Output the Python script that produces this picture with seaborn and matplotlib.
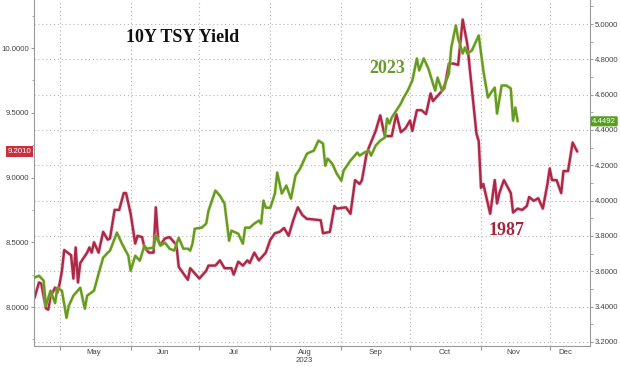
import numpy as np
import pandas as pd
import matplotlib
matplotlib.use("Agg")
import matplotlib.pyplot as plt
import matplotlib.dates as mdates
import matplotlib.patheffects as pe
from matplotlib.ticker import MultipleLocator, FormatStrFormatter, FixedLocator, FixedFormatter, NullFormatter
import seaborn as sns

# 1987 yields (left axis), plotted against the matching 2023 calendar date
dates_1987 = [
    "2023-04-20", "2023-04-22", "2023-04-23", "2023-04-25", "2023-04-26", "2023-04-27", "2023-04-29", "2023-04-30",
    "2023-05-01", "2023-05-02", "2023-05-03", "2023-05-06", "2023-05-07", "2023-05-08", "2023-05-09", "2023-05-10",
    "2023-05-13", "2023-05-14", "2023-05-15", "2023-05-16", "2023-05-18", "2023-05-20", "2023-05-22", "2023-05-23",
    "2023-05-25", "2023-05-27", "2023-05-29", "2023-05-30", "2023-06-01", "2023-06-03", "2023-06-04", "2023-06-06",
    "2023-06-07", "2023-06-09", "2023-06-11", "2023-06-12", "2023-06-13", "2023-06-14", "2023-06-16", "2023-06-18",
    "2023-06-20", "2023-06-21", "2023-06-22", "2023-06-24", "2023-06-26", "2023-06-27", "2023-06-29", "2023-07-01",
    "2023-07-04", "2023-07-05", "2023-07-08", "2023-07-10", "2023-07-12", "2023-07-15", "2023-07-16", "2023-07-18",
    "2023-07-20", "2023-07-22", "2023-07-23", "2023-07-25", "2023-07-27", "2023-07-28", "2023-07-30", "2023-08-01",
    "2023-08-03", "2023-08-05", "2023-08-07", "2023-08-09", "2023-08-11", "2023-08-13", "2023-08-15", "2023-08-17",
    "2023-08-18", "2023-08-23", "2023-08-24", "2023-08-27", "2023-08-29", "2023-08-30", "2023-09-03", "2023-09-05",
    "2023-09-07", "2023-09-09", "2023-09-10", "2023-09-12", "2023-09-13", "2023-09-16", "2023-09-18", "2023-09-20",
    "2023-09-23", "2023-09-25", "2023-09-27", "2023-09-29", "2023-10-01", "2023-10-02", "2023-10-04", "2023-10-06",
    "2023-10-08", "2023-10-10", "2023-10-11", "2023-10-13", "2023-10-15", "2023-10-16", "2023-10-18", "2023-10-20",
    "2023-10-22", "2023-10-24", "2023-10-26", "2023-10-30", "2023-10-31", "2023-11-01", "2023-11-02", "2023-11-05",
    "2023-11-07", "2023-11-08", "2023-11-09", "2023-11-11", "2023-11-14", "2023-11-15", "2023-11-17", "2023-11-19",
    "2023-11-21", "2023-11-22", "2023-11-24", "2023-11-26", "2023-11-28", "2023-11-30", "2023-12-01", "2023-12-02",
    "2023-12-04", "2023-12-06", "2023-12-07", "2023-12-09", "2023-12-11", "2023-12-13",
]
yield_1987 = [
    8.07, 8.19, 8.18, 7.99, 7.98, 8.08, 8.15, 8.11,
    8.18, 8.28, 8.44, 8.40, 8.22, 8.46, 8.19, 8.34,
    8.42, 8.46, 8.42, 8.50, 8.42, 8.58, 8.52, 8.53,
    8.75, 8.75, 8.88, 8.88, 8.72, 8.49, 8.55, 8.54,
    8.46, 8.42, 8.42, 8.77, 8.52, 8.48, 8.53, 8.54,
    8.50, 8.48, 8.31, 8.26, 8.21, 8.30, 8.26, 8.22,
    8.28, 8.32, 8.32, 8.36, 8.30, 8.30, 8.25, 8.35,
    8.32, 8.36, 8.34, 8.42, 8.36, 8.38, 8.42, 8.52,
    8.57, 8.58, 8.61, 8.55, 8.67, 8.77, 8.71, 8.68,
    8.68, 8.67, 8.57, 8.58, 8.78, 8.76, 8.77, 8.72,
    8.98, 8.95, 8.98, 9.18, 9.23, 9.36, 9.48, 9.32,
    9.32, 9.49, 9.35, 9.38, 9.44, 9.36, 9.52, 9.52,
    9.49, 9.65, 9.59, 9.63, 9.67, 9.69, 9.88, 9.88,
    9.87, 10.22, 10.03, 9.34, 9.28, 8.92, 8.95, 8.72,
    8.98, 8.80, 8.88, 8.98, 8.88, 8.73, 8.76, 8.75,
    8.78, 8.85, 8.82, 8.84, 8.76, 8.95, 9.07, 8.98,
    8.98, 8.88, 9.05, 9.05, 9.27, 9.201,
]

# 2023 yields (right axis)
dates_2023 = [
    "2023-04-20", "2023-04-22", "2023-04-24", "2023-04-25", "2023-04-27", "2023-04-29", "2023-04-30", "2023-05-02",
    "2023-05-04", "2023-05-05", "2023-05-07", "2023-05-10", "2023-05-12", "2023-05-13", "2023-05-16", "2023-05-18",
    "2023-05-20", "2023-05-22", "2023-05-23", "2023-05-26", "2023-05-28", "2023-05-31", "2023-06-01", "2023-06-03",
    "2023-06-05", "2023-06-07", "2023-06-08", "2023-06-11", "2023-06-12", "2023-06-14", "2023-06-16", "2023-06-18",
    "2023-06-20", "2023-06-22", "2023-06-24", "2023-06-26", "2023-06-27", "2023-06-28", "2023-06-29", "2023-07-02",
    "2023-07-04", "2023-07-05", "2023-07-08", "2023-07-10", "2023-07-12", "2023-07-14", "2023-07-15", "2023-07-18",
    "2023-07-20", "2023-07-21", "2023-07-23", "2023-07-25", "2023-07-27", "2023-07-28", "2023-07-29", "2023-07-30",
    "2023-08-01", "2023-08-03", "2023-08-04", "2023-08-06", "2023-08-08", "2023-08-10", "2023-08-12", "2023-08-14",
    "2023-08-15", "2023-08-17", "2023-08-18", "2023-08-20", "2023-08-22", "2023-08-24", "2023-08-25", "2023-08-26",
    "2023-08-28", "2023-08-30", "2023-09-01", "2023-09-02", "2023-09-05", "2023-09-08", "2023-09-09", "2023-09-11",
    "2023-09-13", "2023-09-14", "2023-09-16", "2023-09-18", "2023-09-20", "2023-09-21", "2023-09-22", "2023-09-23",
    "2023-09-25", "2023-09-27", "2023-09-28", "2023-09-30", "2023-10-02", "2023-10-04", "2023-10-05", "2023-10-07",
    "2023-10-09", "2023-10-11", "2023-10-12", "2023-10-13", "2023-10-15", "2023-10-16", "2023-10-18", "2023-10-19",
    "2023-10-21", "2023-10-22", "2023-10-24", "2023-10-25", "2023-10-26", "2023-10-28", "2023-10-31", "2023-11-02",
    "2023-11-04", "2023-11-06", "2023-11-07", "2023-11-08", "2023-11-10", "2023-11-12", "2023-11-14", "2023-11-15",
    "2023-11-16", "2023-11-17",
]
yield_2023 = [
    3.564, 3.575, 3.547, 3.405, 3.490, 3.420, 3.507, 3.490,
    3.337, 3.405, 3.462, 3.507, 3.388, 3.462, 3.490, 3.586,
    3.677, 3.705, 3.717, 3.819, 3.762, 3.688, 3.603, 3.688,
    3.660, 3.745, 3.728, 3.734, 3.802, 3.745, 3.762, 3.728,
    3.717, 3.790, 3.728, 3.728, 3.717, 3.756, 3.841, 3.847,
    3.870, 3.943, 4.057, 4.028, 3.983, 3.773, 3.830, 3.813,
    3.756, 3.847, 3.847, 3.870, 3.887, 3.870, 4.000, 3.960,
    3.960, 4.040, 4.159, 4.040, 4.085, 4.011, 4.142, 4.181,
    4.210, 4.266, 4.272, 4.283, 4.340, 4.323, 4.198, 4.238,
    4.210, 4.153, 4.113, 4.170, 4.227, 4.272, 4.255, 4.272,
    4.283, 4.255, 4.312, 4.340, 4.357, 4.465, 4.436, 4.470,
    4.510, 4.550, 4.578, 4.623, 4.680, 4.805, 4.737, 4.805,
    4.748, 4.663, 4.623, 4.697, 4.623, 4.652, 4.720, 4.867,
    4.992, 4.918, 4.833, 4.867, 4.833, 4.850, 4.935, 4.737,
    4.584, 4.623, 4.640, 4.493, 4.652, 4.652, 4.635, 4.453,
    4.527, 4.4492,
]

month_labels = ["May", "Jun", "Jul", "Aug", "Sep", "Oct", "Nov", "Dec"]
month_label_dates = ["2023-05-16", "2023-06-15", "2023-07-16", "2023-08-16",
                     "2023-09-16", "2023-10-16", "2023-11-15", "2023-12-08"]

sns.set_style("ticks")
plt.rcParams['font.family'] = ['Liberation Sans', 'DejaVu Sans']

red = "#ab2849"
green = "#639a28"
axis_grey = "#9a9a9a"
text_grey = "#444444"
tick_fs = 5.6

df87 = pd.DataFrame({"date": pd.to_datetime(dates_1987), "yield": yield_1987})
df23 = pd.DataFrame({"date": pd.to_datetime(dates_2023), "yield": yield_2023})

fig = plt.figure(figsize=(6.2, 3.67), dpi=100)
ax = fig.add_axes([0.0548, 0.0572, 0.8968, 0.9428])
ax2 = ax.twinx()

sns.lineplot(data=df87, x="date", y="yield", ax=ax, color=red, lw=1.7, estimator=None)
sns.lineplot(data=df23, x="date", y="yield", ax=ax2, color=green, lw=1.7, estimator=None)
ax.lines[-1].set_path_effects([pe.Stroke(linewidth=2.6, foreground="#e58a9c", alpha=0.5), pe.Normal()])
ax2.lines[-1].set_path_effects([pe.Stroke(linewidth=2.6, foreground="#cfdc6a", alpha=0.5), pe.Normal()])

left_lim = (7.699, 10.371)
right_lim = (3.177, 5.136)
ax.set_ylim(*left_lim)
ax2.set_ylim(*right_lim)
ax.set_xlim(pd.Timestamp("2023-04-19 19:00"), pd.Timestamp("2023-12-18 14:00"))
for a in (ax, ax2):
    a.set_xlabel("")
    a.set_ylabel("")

# y axes
ax.yaxis.set_major_locator(MultipleLocator(0.5))
ax.yaxis.set_minor_locator(MultipleLocator(0.25))
ax.yaxis.set_major_formatter(FormatStrFormatter("%.4f"))
ax2.yaxis.set_major_locator(MultipleLocator(0.2))
ax2.yaxis.set_minor_locator(MultipleLocator(0.1))
ax2.yaxis.set_major_formatter(FormatStrFormatter("%.4f"))
for a in (ax, ax2):
    a.tick_params(axis="y", which="major", length=2.5, width=0.8, pad=1, labelsize=tick_fs,
                  color=axis_grey, labelcolor=text_grey)
    a.tick_params(axis="y", which="minor", length=1.8, width=0.6, color=axis_grey)

# x axis: ticks at month starts, labels mid-month
ax.xaxis.set_major_locator(mdates.MonthLocator())
ax.xaxis.set_major_formatter(NullFormatter())
ax.xaxis.set_minor_locator(FixedLocator(mdates.date2num(pd.to_datetime(month_label_dates))))
ax.xaxis.set_minor_formatter(FixedFormatter(month_labels))
ax.tick_params(axis="x", which="major", length=3, width=0.8, color=axis_grey)
ax.tick_params(axis="x", which="minor", length=0, pad=2, labelsize=tick_fs, labelcolor=text_grey)
ax.text(pd.Timestamp("2023-08-16"), -0.043, "2023", transform=ax.get_xaxis_transform(),
        ha="center", va="center", fontsize=tick_fs, color=text_grey)

# spines
for s in ("top", "right"):
    ax.spines[s].set_visible(False)
for s in ("top", "left", "bottom"):
    ax2.spines[s].set_visible(False)
ax.spines["left"].set_color(axis_grey)
ax.spines["bottom"].set_color(axis_grey)
ax2.spines["right"].set_color(axis_grey)

# grid: vertical at month starts, horizontal at the right-axis ticks
ax.grid(axis="x", which="major", ls=(0, (1, 2.5)), color="#b5b5b5", lw=0.8)
ax.set_axisbelow(True)
for r in np.arange(3.2, 5.01, 0.2):
    lv = left_lim[0] + (r - right_lim[0]) * (left_lim[1] - left_lim[0]) / (right_lim[1] - right_lim[0])
    ax.axhline(lv, ls=(0, (1, 2.5)), color="#b5b5b5", lw=0.8, zorder=0)

# annotations
ax.text(0.268, 0.893, "10Y TSY Yield", transform=ax.transAxes, ha="center", va="center",
        fontsize=13, fontweight="bold", color="#111111", family="Liberation Serif")
ax.text(pd.Timestamp("2023-09-21"), 4.751, "2023", transform=ax2.transData, ha="center", va="center",
        fontsize=13, fontweight="bold", color="#6a9a2e", family="Liberation Serif")
ax.text(pd.Timestamp("2023-11-12"), 8.59, "1987", ha="center", va="center",
        fontsize=13, fontweight="bold", color="#a3283f", family="Liberation Serif")

# last-value tags
ax.text(-0.005, yield_1987[-1], f"{yield_1987[-1]:.4f}", transform=ax.get_yaxis_transform(),
        ha="right", va="center", fontsize=tick_fs, color="white",
        bbox=dict(boxstyle="square,pad=0.22", fc="#c8303e", ec="none"))
ax2.text(1.004, yield_2023[-1], f"{yield_2023[-1]:.4f}", transform=ax2.get_yaxis_transform(),
         ha="left", va="center", fontsize=tick_fs, color="white",
         bbox=dict(boxstyle="round,pad=0.2", fc="#55a020", ec="none"))

fig.savefig("out.png", dpi=100)
